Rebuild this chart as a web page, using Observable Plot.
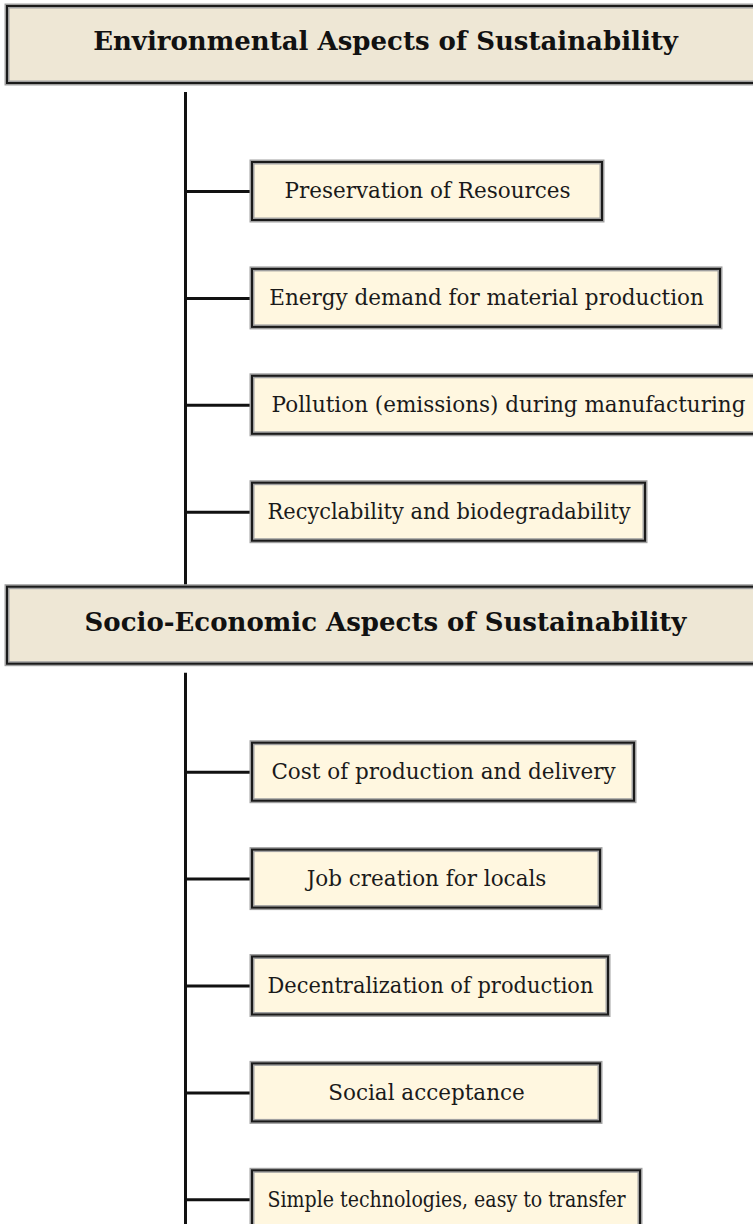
<!DOCTYPE html>
<html>
<head>
<meta charset="utf-8">
<script src="https://cdn.jsdelivr.net/npm/d3@7"></script>
<script src="https://cdn.jsdelivr.net/npm/@observablehq/plot@0.6"></script>
<style>
  html, body { margin: 0; padding: 0; background: #ffffff; overflow: hidden; }
  #chart svg { display: block; overflow: hidden; }
</style>
</head>
<body>
<div id="chart"></div>
<script>
// ---- data ----
const sections = [
  "Environmental Aspects of Sustainability",
  "Socio-Economic Aspects of Sustainability"
];
const environmentalItems = [
  "Preservation of Resources",
  "Energy demand for material production",
  "Pollution (emissions) during manufacturing",
  "Recyclability and biodegradability"
];
const socioEconomicItems = [
  "Cost of production and delivery",
  "Job creation for locals",
  "Decentralization of production",
  "Social acceptance",
  "Simple technologies, easy to transfer"
];
const itemsBySection = [environmentalItems, socioEconomicItems];

// ---- layout (diagram geometry, in pixel units of the 753x1224 canvas) ----
const W = 753, H = 1224;
const layout = {
  headerLeft: 7, headerRight: 763, headerHeight: 77, firstHeaderTop: 6,
  spineX: 185, spineGap: 9, itemLeft: 252, itemHeight: 58,
  firstItemOffset: 79, itemPitch: 106.9, gapToNextHeader: 46,
  headerTextX: 385, textPad: 15
};
const itemRight = [[602, 720, 764, 645], [634, 600, 608, 600, 640]];

// build records
const headers = [], items = [], spines = [];
let cursorY = layout.firstHeaderTop;
sections.forEach((title, s) => {
  const hTop = cursorY, hBot = cursorY + layout.headerHeight;
  headers.push({title, x1: layout.headerLeft, x2: layout.headerRight, y1: hTop, y2: hBot});
  let last = hBot;
  itemsBySection[s].forEach((label, i) => {
    const y1 = hBot + layout.firstItemOffset + i * layout.itemPitch;
    const y2 = y1 + layout.itemHeight;
    const x2 = itemRight[s][i];
    items.push({label, x1: layout.itemLeft, x2, y1, y2, cy: (y1 + y2) / 2, cx: (layout.itemLeft + x2) / 2});
    last = y2;
  });
  cursorY = last + layout.gapToNextHeader;
  spines.push({y1: hBot + layout.spineGap, y2: s < sections.length - 1 ? cursorY : H + 5});
});

const serif = "'DejaVu Serif', 'Liberation Serif', serif";

const chart = Plot.plot({
  width: W,
  height: H,
  margin: 0,
  x: {domain: [0, W], range: [0, W], axis: null},
  y: {domain: [0, H], range: [0, H], axis: null},
  style: {background: "#ffffff"},
  marks: [
    Plot.ruleX(spines, {x: layout.spineX, y1: "y1", y2: "y2", stroke: "#111", strokeWidth: 3}),
    Plot.ruleY(items, {y: "cy", x1: layout.spineX, x2: layout.itemLeft, stroke: "#111", strokeWidth: 3}),
    Plot.rect(headers, {x1: "x1", x2: "x2", y1: "y1", y2: "y2", fill: "#eee7d5", stroke: "#a0a0a0", strokeWidth: 5}),
    Plot.rect(headers, {x1: "x1", x2: "x2", y1: "y1", y2: "y2", fill: "none", stroke: "#1a1a1a", strokeWidth: 2}),
    Plot.text(headers, {x: layout.headerTextX, y: d => (d.y1 + d.y2) / 2 - 3, text: "title",
      fontFamily: serif, fontWeight: "bold", fontSize: 26, fill: "#111"}),
    Plot.rect(items, {x1: "x1", x2: "x2", y1: "y1", y2: "y2", fill: "#fff7e0", stroke: "#a0a0a0", strokeWidth: 5}),
    Plot.rect(items, {x1: "x1", x2: "x2", y1: "y1", y2: "y2", fill: "none", stroke: "#1a1a1a", strokeWidth: 2}),
    Plot.text(items, {x: "cx", y: "cy", text: "label", fontFamily: serif, fontSize: 21.5, fill: "#1a1a1a"})
  ]
});
document.getElementById("chart").appendChild(chart);

// fit item labels inside their boxes (squeeze only when the text would overflow)
const textGroups = chart.querySelectorAll('g[aria-label="text"]');
const itemTexts = textGroups[textGroups.length - 1].querySelectorAll("text");
itemTexts.forEach((el, i) => {
  const d = items[i];
  const maxLen = (d.x2 - d.x1) - 2 * layout.textPad;
  const len = el.getComputedTextLength();
  if (len > maxLen) {
    el.setAttribute("textLength", maxLen);
    el.setAttribute("lengthAdjust", "spacingAndGlyphs");
  }
});
</script>
</body>
</html>
